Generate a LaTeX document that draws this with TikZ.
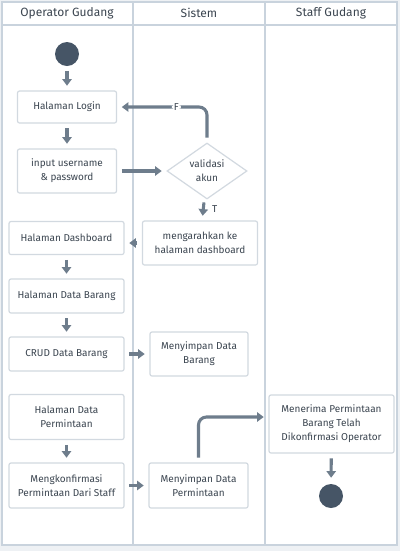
\documentclass[tikz,border=0pt]{standalone}
\usepackage{fontspec}
\setmainfont{Fira Sans}
\usetikzlibrary{arrows.meta,shapes.geometric}
\definecolor{bg}{HTML}{EEF1F4}
\definecolor{lane}{HTML}{C9D3DD}
\definecolor{boxb}{HTML}{D2D9E0}
\definecolor{txt}{HTML}{3B4550}
\definecolor{arrc}{HTML}{6E7D8C}
\definecolor{dot}{HTML}{465566}
\newcommand\pxl[1]{#1*0.75pt}
\begin{document}
\begin{tikzpicture}[x=0.75pt,y=-0.75pt,
  box/.style={draw=boxb, line width=0.9pt, fill=white, rounded corners=1.5pt, align=center, text=txt,
    font=\fontsize{7.5}{10.5}\selectfont, inner sep=0pt},
  dotnode/.style={circle, fill=dot, minimum size=\pxl{24}, inner sep=0pt},
  flow/.style={draw=arrc, line width=2.3pt, -{Triangle[length=5pt,width=7pt]}, shorten <=3.5pt, shorten >=3.5pt},
  lbl/.style={text=txt, font=\fontsize{7.5}{9}\selectfont, inner sep=1.5pt},
  head/.style={text=txt, font=\fontsize{9}{11}\selectfont}]
\useasboundingbox (0,0) rectangle (400,551);
\fill[bg] (0,0) rectangle (400,551);
\draw[lane, line width=1.1pt, fill=white] (2,2) rectangle (397,545);
\draw[lane, line width=1.1pt] (2,25) -- (397,25) (133,2) -- (133,545) (265,2) -- (265,545);
\node[head] (h1) at (67,13) {Operator Gudang};
\node[head] (h2) at (199,13) {Sistem};
\node[head] (h3) at (331,13) {Staff Gudang};

\node[dotnode] (start) at (67,54) {};
\node[box, minimum width=\pxl{99}, minimum height=\pxl{32}] (login) at (67,107) {Halaman Login};
\node[box, minimum width=\pxl{99}, minimum height=\pxl{44}] (input) at (67,171) {input username\\\& password};
\node[box, shape=diamond, rounded corners=0pt, shape aspect=1.43, minimum width=\pxl{80}, minimum height=\pxl{56}] (valid) at (207,171) {validasi\\akun};
\node[box, minimum width=\pxl{115}, minimum height=\pxl{44}] (arah) at (200,243) {mengarahkan ke\\halaman dashboard};
\node[box, minimum width=\pxl{115}, minimum height=\pxl{33}] (dash) at (66.5,238) {Halaman Dashboard};
\node[box, minimum width=\pxl{115}, minimum height=\pxl{34}] (barang) at (66.5,296) {Halaman Data Barang};
\node[box, minimum width=\pxl{115}, minimum height=\pxl{34}] (crud) at (66.5,354) {CRUD Data Barang};
\node[box, minimum width=\pxl{98}, minimum height=\pxl{44}] (simpanB) at (199,354) {Menyimpan Data\\Barang};
\node[box, minimum width=\pxl{115}, minimum height=\pxl{45}] (perm) at (66.5,417) {Halaman Data\\Permintaan};
\node[box, minimum width=\pxl{115}, minimum height=\pxl{45}] (konf) at (66.5,485.5) {Mengkonfirmasi\\Permintaan Dari Staff};
\node[box, minimum width=\pxl{99}, minimum height=\pxl{45}] (simpanP) at (198.5,485.5) {Menyimpan Data\\Permintaan};
\node[box, minimum width=\pxl{125}, minimum height=\pxl{58}] (terima) at (331.5,424) {Menerima Permintaan\\Barang Telah\\Dikonfirmasi Operator};
\node[dotnode] (end) at (331,496) {};

\draw[flow] (start) -- (login);
\draw[flow] (login) -- (input);
\draw[flow] (input) -- (valid);
\draw[flow, rounded corners=6pt] (valid.north) |- node[pos=0.67, lbl, fill=white] (F) {F} (login.east);
\draw[flow] (valid) -- node[lbl, right=4pt] (T) {T} (arah);
\draw[flow] (arah.west) -- (arah.west -| dash.east);
\draw[flow] (dash) -- (barang);
\draw[flow] (barang) -- (crud);
\draw[flow] (crud) -- (simpanB);
\draw[flow] (perm) -- (konf);
\draw[flow] (konf) -- (simpanP);
\draw[flow, rounded corners=6pt] (simpanP.north) |- (terima.west |- perm);
\draw[flow, shorten >=4.5pt] (terima) -- (end);
\end{tikzpicture}
\end{document}
